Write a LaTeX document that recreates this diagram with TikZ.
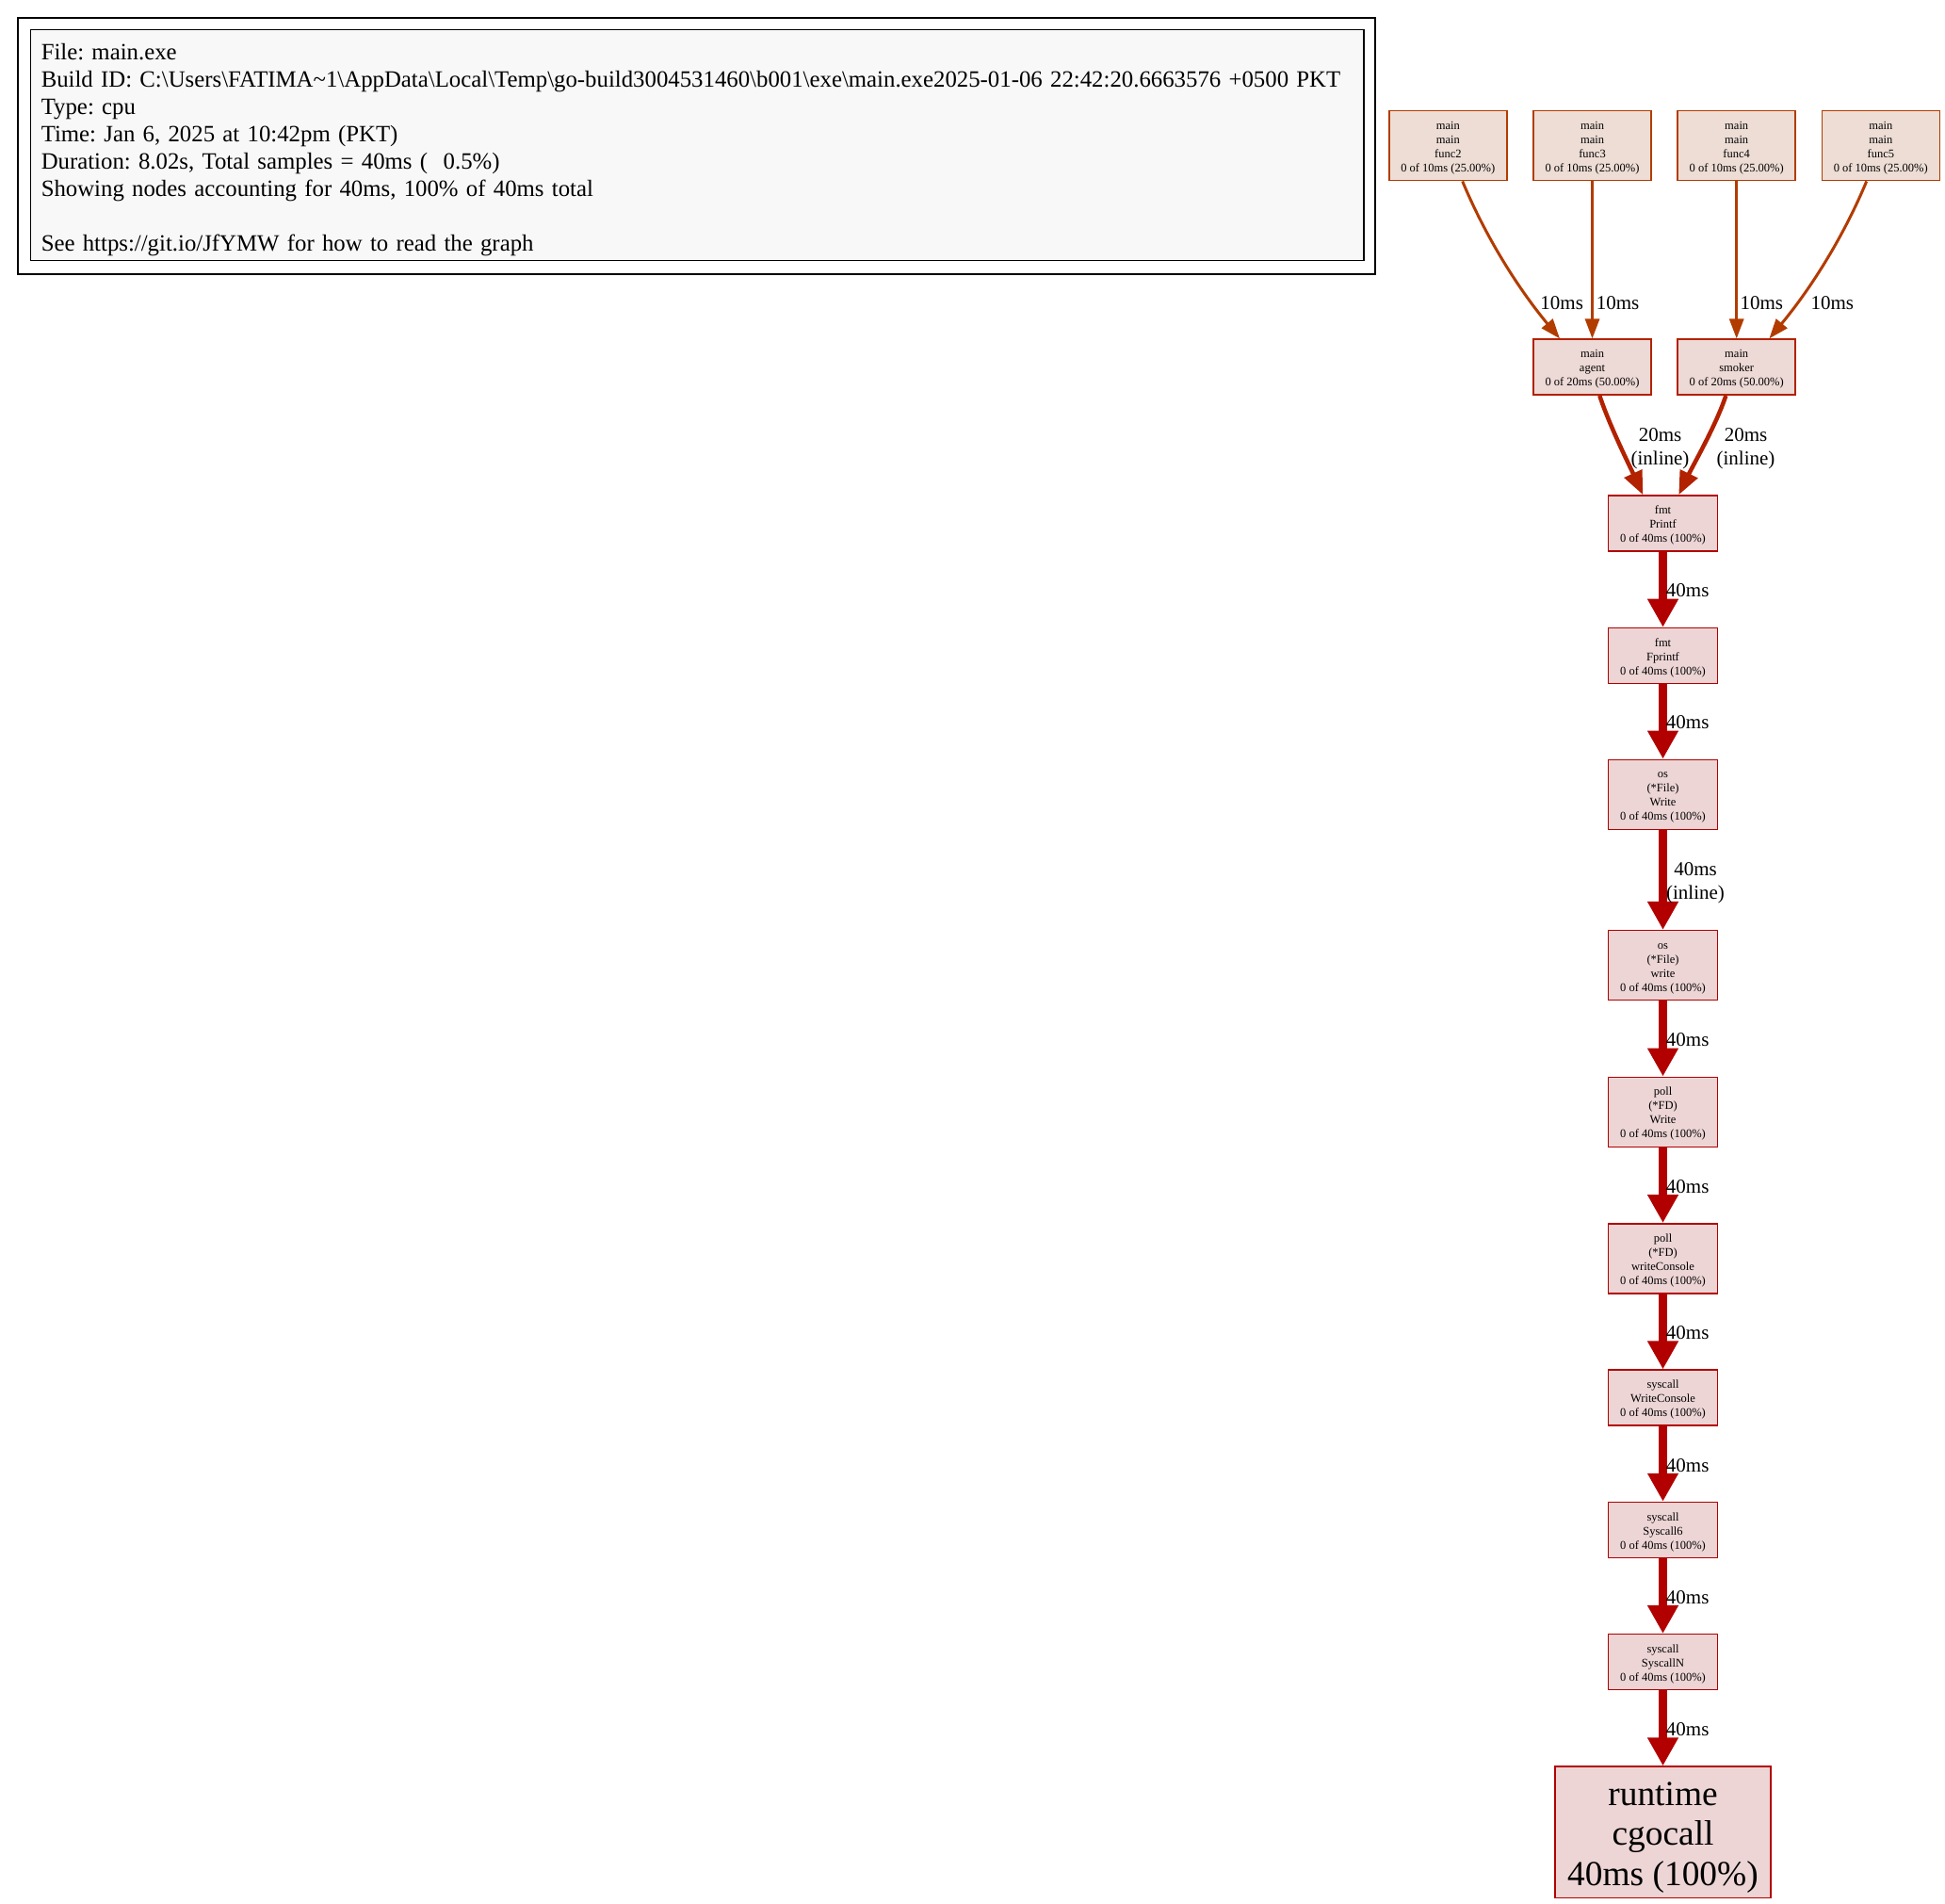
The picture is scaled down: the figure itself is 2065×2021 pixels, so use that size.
\documentclass[tikz,border=0pt]{standalone}
\usepackage{fontspec}
\setmainfont{Liberation Serif}
\usetikzlibrary{arrows.meta,calc}
\definecolor{c25}{HTML}{B23C00}
\definecolor{f25}{HTML}{EDDDD5}
\definecolor{c50}{HTML}{B22100}
\definecolor{f50}{HTML}{EDD9D5}
\definecolor{c100}{HTML}{B20000}
\definecolor{f100}{HTML}{EDD5D5}
\definecolor{legfill}{HTML}{F8F8F8}
\newcommand{\ntxt}[2]{\raisebox{#1}[\height][\depth]{\begin{tabular}{@{}c@{}}#2\end{tabular}}}
\tikzset{
 fn/.style={draw, line width=0.75pt, inner sep=0pt, font=\fontsize{6.25}{7.5}\selectfont, minimum width=57.8pt},
 fnA/.style={fn, draw=c25, fill=f25, minimum width=62.5pt, minimum height=37pt},
 fnB/.style={fn, draw=c50, fill=f50, minimum width=62.5pt, minimum height=29.5pt},
 fnC/.style={fn, draw=c100, fill=f100, minimum height=29.5pt},
 fnD/.style={fn, draw=c100, fill=f100, minimum height=37pt},
 bignode/.style={draw=c100, fill=f100, line width=0.75pt, inner sep=0pt, minimum width=114.5pt, minimum height=69.6pt, font=\fontsize{18.7}{21.3}\selectfont},
 e10/.style={draw=c25, line width=1.5pt, -{Triangle[length=10.5pt,width=7.5pt]}},
 e20/.style={draw=c50, line width=2.25pt, -{Triangle[length=12.5pt,width=10pt]}},
 e40/.style={draw=c100, line width=4.5pt, -{Triangle[length=15pt,width=15.5pt]}},
 lbl/.style={inner sep=0pt, align=center, font=\fontsize{10.5}{12.3}\selectfont},
}
\begin{document}
\begin{tikzpicture}[x=0.5pt,y=-0.5pt]
\useasboundingbox (0,0) rectangle (2065,2021);
% legend
\node[draw=black, line width=0.75pt, fill=white, anchor=north west, minimum width=720.3pt, minimum height=136pt, inner sep=0pt] (frame) at (18.4,18.4) {};
\node[draw=black, line width=0.75pt, fill=legfill, anchor=north west, minimum height=122.5pt, inner xsep=5.7pt, inner ysep=0pt, text width=696.4pt, align=left, font=\fontsize{12.4}{14.5}\selectfont\frenchspacing] (legend) at (31.6,31) {\rule{0pt}{13.8pt}File: main.exe\\
Build ID: C:\textbackslash Users\textbackslash FATIMA\textasciitilde 1\textbackslash AppData\textbackslash Local\textbackslash Temp\textbackslash go-build3004531460\textbackslash b001\textbackslash exe\textbackslash main.exe2025-01-06 22:42:20.6663576 +0500 PKT\\
Type: cpu\\
Time: Jan 6, 2025 at 10:42pm (PKT)\\
Duration: 8.02s, Total samples = 40ms (\ \ 0.5\%)\\
Showing nodes accounting for 40ms, 100\% of 40ms total\\
\mbox{}\\
See https://git.io/JfYMW for how to read the graph};
% nodes
\node[fnA] (func2) at (1537.3,154.7) {\ntxt{-1pt}{main\\main\\func2\\0 of 10ms (25.00\%)}};
\node[fnA] (func3) at (1690.5,154.7) {\ntxt{-1pt}{main\\main\\func3\\0 of 10ms (25.00\%)}};
\node[fnA] (func4) at (1843.7,154.7) {\ntxt{-1pt}{main\\main\\func4\\0 of 10ms (25.00\%)}};
\node[fnA] (func5) at (1996.8,154.7) {\ntxt{-1pt}{main\\main\\func5\\0 of 10ms (25.00\%)}};
\node[fnB] (agent) at (1690.5,389.7) {\ntxt{-1pt}{main\\agent\\0 of 20ms (50.00\%)}};
\node[fnB] (smoker) at (1843.7,389.7) {\ntxt{-1pt}{main\\smoker\\0 of 20ms (50.00\%)}};
\node[fnC] (printf) at (1765.5,555.5) {\ntxt{-1pt}{fmt\\Printf\\0 of 40ms (100\%)}};
\node[fnC] (fprintf) at (1765.5,696) {\ntxt{-1pt}{fmt\\Fprintf\\0 of 40ms (100\%)}};
\node[fnD] (osW) at (1765.5,843.3) {\ntxt{-1pt}{os\\(*File)\\Write\\0 of 40ms (100\%)}};
\node[fnD] (osw) at (1765.5,1024.7) {\ntxt{-1pt}{os\\(*File)\\write\\0 of 40ms (100\%)}};
\node[fnD] (pollW) at (1765.5,1180.3) {\ntxt{-1pt}{poll\\(*FD)\\Write\\0 of 40ms (100\%)}};
\node[fnD] (pollWC) at (1765.5,1335.8) {\ntxt{-1pt}{poll\\(*FD)\\writeConsole\\0 of 40ms (100\%)}};
\node[fnC] (sysWC) at (1765.5,1483.7) {\ntxt{-1pt}{syscall\\WriteConsole\\0 of 40ms (100\%)}};
\node[fnC] (sys6) at (1765.5,1624) {\ntxt{-1pt}{syscall\\Syscall6\\0 of 40ms (100\%)}};
\node[fnC] (sysN) at (1765.5,1764.2) {\ntxt{-1pt}{syscall\\SyscallN\\0 of 40ms (100\%)}};
\node[bignode] (runtime) at (1765.5,1944.7) {\ntxt{-2.7pt}{runtime\\cgocall\\40ms (100\%)}};
% edges
\draw[e10] ($(func2.south)+(15.4,0)$) .. controls +(23.3,56) and +(-46.5,-56) .. ($(agent.north)+(-34.5,0)$);
\draw[e10] (func3.south) -- (agent.north);
\draw[e10] (func4.south) -- (smoker.north);
\draw[e10] ($(func5.south)+(-15.1,0)$) .. controls +(-23.3,56) and +(46.5,-56) .. ($(smoker.north)+(34.6,0)$);
\draw[e20] ($(agent.south)+(7.8,0)$) .. controls +(9.7,30) and +(-14.3,-31) .. ($(printf.north)+(-21.2,0)$);
\draw[e20] ($(smoker.south)+(-11.4,0)$) .. controls +(-9.7,30) and +(15,-31) .. ($(printf.north)+(16.8,0)$);
\draw[e40] (printf.south) -- (fprintf.north);
\draw[e40] (fprintf.south) -- (osW.north);
\draw[e40] (osW.south) -- (osw.north);
\draw[e40] (osw.south) -- (pollW.north);
\draw[e40] (pollW.south) -- (pollWC.north);
\draw[e40] (pollWC.south) -- (sysWC.north);
\draw[e40] (sysWC.south) -- (sys6.north);
\draw[e40] (sys6.south) -- (sysN.north);
\draw[e40] (sysN.south) -- (runtime.north);
% edge labels
\node[lbl, anchor=base] (l1) at (1658.2,328.3) {10ms};
\node[lbl, anchor=base] (l2) at (1717.5,328.3) {10ms};
\node[lbl, anchor=base] (l3) at (1870.3,328.3) {10ms};
\node[lbl, anchor=base] (l4) at (1945.3,328.3) {10ms};
\node[lbl] (l5) at (1762.5,476.5) {20ms\\(inline)};
\node[lbl] (l6) at (1853.5,476.5) {20ms\\(inline)};
\node[lbl, anchor=base] (l7) at (1791.7,633.3) {40ms};
\node[lbl, anchor=base] (l8) at (1791.7,773.3) {40ms};
\node[lbl] (l9) at (1800,937.3) {40ms\\(inline)};
\node[lbl, anchor=base] (l10) at (1791.7,1110.7) {40ms};
\node[lbl, anchor=base] (l11) at (1791.7,1266.7) {40ms};
\node[lbl, anchor=base] (l12) at (1791.7,1421.7) {40ms};
\node[lbl, anchor=base] (l13) at (1791.7,1562.3) {40ms};
\node[lbl, anchor=base] (l14) at (1791.7,1702.3) {40ms};
\node[lbl, anchor=base] (l15) at (1791.7,1842.3) {40ms};
\end{tikzpicture}
\end{document}
